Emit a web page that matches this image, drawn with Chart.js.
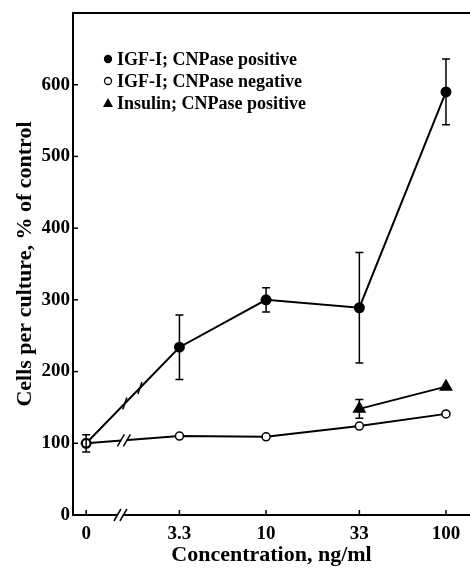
<!DOCTYPE html>
<html>
<head>
<meta charset="utf-8">
<script src="https://cdn.jsdelivr.net/npm/chart.js@4/dist/chart.umd.min.js"></script>
<style>
  html, body { margin: 0; padding: 0; background: #fff; }
  #wrap { width: 470px; height: 571px; }
</style>
</head>
<body>
<div id="wrap"><canvas id="chart"></canvas></div>
<script>
// concentrations (ng/ml); the control "0" sits one step left of 3.3 on the log axis
const concLabels = ["0", "3.3", "10", "33", "100"];
const concPos = [1, 3.3, 10, 33, 100];

const igfPositive = [100, 234, 300, 289, 590];
const igfPositiveErr = [12, 45, 17, 77, 46];
const igfNegative = [100, 110, 109, 124, 141];
const insulinConc = [33, 100];
const insulinPositive = [148, 179];
const insulinErr = [13, 0];

const yTicks = [0, 100, 200, 300, 400, 500, 600];

const serif = "'Liberation Serif', 'DejaVu Serif', serif";

const toPoints = (xs, ys) => xs.map((x, i) => ({ x: x, y: ys[i] }));

const datasets = [
  {
    label: "IGF-I; CNPase positive",
    data: toPoints(concPos, igfPositive),
    err: igfPositiveErr,
    borderColor: "#000",
    backgroundColor: "#000",
    borderWidth: 2,
    pointStyle: "circle",
    pointRadius: 4.5,
    order: 2,
  },
  {
    label: "IGF-I; CNPase negative",
    data: toPoints(concPos, igfNegative),
    borderColor: "#000",
    backgroundColor: "#fff",
    borderWidth: 2,
    pointBorderWidth: 1.5,
    pointStyle: "circle",
    pointRadius: 4,
    order: 1,
  },
  {
    label: "Insulin; CNPase positive",
    data: toPoints(insulinConc, insulinPositive),
    err: insulinErr,
    borderColor: "#000",
    backgroundColor: "#000",
    borderWidth: 2,
    pointStyle: "triangle",
    pointRadius: 6,
    order: 3,
  },
];

// two little slashes across a line at (x, y)
function slashes(ctx, x, y, gap) {
  ctx.save();
  ctx.fillStyle = "#fff";
  ctx.fillRect(x - gap / 2, y - 3, gap, 6);
  ctx.strokeStyle = "#000";
  ctx.lineWidth = 1.5;
  [-gap / 2, gap / 2].forEach((dx) => {
    ctx.beginPath();
    ctx.moveTo(x + dx - 3.5, y + 6);
    ctx.lineTo(x + dx + 3.5, y - 6);
    ctx.stroke();
  });
  ctx.restore();
}

// pixel y on the segment between the first two points of a dataset
function yOnFirstSegment(chart, dsIndex, px) {
  const pts = chart.getDatasetMeta(dsIndex).data;
  const a = pts[0], b = pts[1];
  return a.y + (b.y - a.y) * (px - a.x) / (b.x - a.x);
}

const decorations = {
  id: "decorations",
  afterDatasetsDraw(chart) {
    const ctx = chart.ctx;
    const area = chart.chartArea;
    const xs = chart.scales.x, ys = chart.scales.y;
    ctx.save();
    ctx.strokeStyle = "#000";
    ctx.fillStyle = "#000";

    // error bars
    ctx.lineWidth = 1.5;
    chart.data.datasets.forEach((ds) => {
      if (!ds.err) return;
      ds.data.forEach((p, i) => {
        const e = ds.err[i];
        if (!e) return;
        const px = xs.getPixelForValue(p.x);
        const top = ys.getPixelForValue(p.y + e);
        const bot = ys.getPixelForValue(p.y - e);
        ctx.beginPath();
        ctx.moveTo(px, top); ctx.lineTo(px, bot);
        ctx.moveTo(px - 4, top); ctx.lineTo(px + 4, top);
        ctx.moveTo(px - 4, bot); ctx.lineTo(px + 4, bot);
        ctx.stroke();
      });
    });

    // top frame line
    ctx.lineWidth = 2;
    ctx.beginPath();
    ctx.moveTo(area.left, area.top);
    ctx.lineTo(area.right, area.top);
    ctx.stroke();

    // inward ticks
    ctx.lineWidth = 1.5;
    xs.ticks.forEach((t) => {
      const px = xs.getPixelForValue(t.value);
      ctx.beginPath();
      ctx.moveTo(px, area.bottom);
      ctx.lineTo(px, area.bottom - 5);
      ctx.stroke();
    });
    ys.ticks.forEach((t) => {
      const py = ys.getPixelForValue(t.value);
      ctx.beginPath();
      ctx.moveTo(area.left, py);
      ctx.lineTo(area.left + 5, py);
      ctx.stroke();
    });

    // axis breaks between the control and 3.3
    slashes(ctx, xs.getPixelForValue(1.55), area.bottom, 6);
    const nx = xs.getPixelForValue(1.62);
    slashes(ctx, nx, yOnFirstSegment(chart, 1, nx), 6);
    ctx.lineWidth = 1.5;
    [1.64, 1.99].forEach((v) => {
      const px = xs.getPixelForValue(v);
      const py = yOnFirstSegment(chart, 0, px);
      ctx.beginPath();
      ctx.moveTo(px - 2, py + 6);
      ctx.lineTo(px + 2, py - 6);
      ctx.stroke();
    });

    // legend inside the plot
    ctx.font = "bold 18px " + serif;
    ctx.textBaseline = "middle";
    const rowY = [59, 81, 103];
    chart.data.datasets.forEach((ds, i) => {
      const y = rowY[i];
      const mx = 108;
      ctx.lineWidth = 1.3;
      if (ds.pointStyle === "triangle") {
        ctx.beginPath();
        ctx.moveTo(mx, y - 5);
        ctx.lineTo(mx + 5, y + 4);
        ctx.lineTo(mx - 5, y + 4);
        ctx.closePath();
        ctx.fill();
      } else {
        ctx.beginPath();
        ctx.arc(mx, y, 3.5, 0, Math.PI * 2);
        ctx.fillStyle = ds.backgroundColor;
        ctx.fill();
        ctx.stroke();
        ctx.fillStyle = "#000";
      }
      ctx.fillText(ds.label, mx + 9, y + 1);
    });
    ctx.restore();
  },
};

const tickFont = { family: serif, size: 19, weight: "bold" };
const titleFont = { family: serif, size: 22, weight: "bold" };

new Chart(document.getElementById("chart"), {
  type: "line",
  data: { datasets },
  plugins: [decorations],
  options: {
    responsive: true,
    maintainAspectRatio: false,
    animation: false,
    layout: { autoPadding: false, padding: { top: 13, right: 0, left: 0, bottom: 0 } },
    plugins: { legend: { display: false }, tooltip: { enabled: false } },
    scales: {
      x: {
        type: "logarithmic",
        min: 0.845,
        max: 136,
        afterBuildTicks: (scale) => {
          scale.ticks = concPos.map((v) => ({ value: v }));
        },
        afterFit: (scale) => {
          scale.height = 56;
          scale.paddingLeft = 0;
          scale.paddingRight = 0;
        },
        grid: { display: false, drawTicks: false },
        border: { display: true, color: "#000", width: 2 },
        ticks: {
          color: "#000",
          font: tickFont,
          padding: 8,
          maxRotation: 0,
          autoSkip: false,
          callback: (v) => concLabels[concPos.indexOf(v)],
        },
        title: {
          display: true,
          text: "Concentration, ng/ml",
          color: "#000",
          font: titleFont,
          padding: { top: 0, bottom: 2 },
        },
      },
      y: {
        min: 0,
        max: 700,
        afterBuildTicks: (scale) => {
          scale.ticks = yTicks.map((v) => ({ value: v }));
        },
        afterFit: (scale) => {
          scale.width = 73;
          scale.paddingTop = 0;
          scale.paddingBottom = 0;
        },
        grid: { display: false, drawTicks: false },
        border: { display: true, color: "#000", width: 2 },
        ticks: { color: "#000", font: tickFont, padding: 3 },
        title: {
          display: true,
          text: "Cells per culture, % of control",
          color: "#000",
          font: titleFont,
          padding: { top: 12, bottom: 0 },
        },
      },
    },
  },
});
</script>
</body>
</html>
